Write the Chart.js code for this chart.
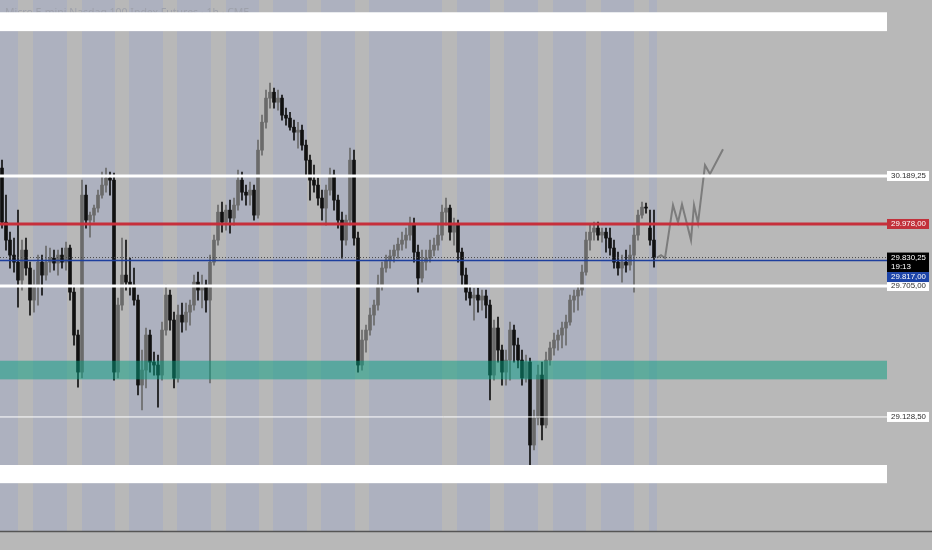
<!DOCTYPE html>
<html>
<head>
<meta charset="utf-8">
<style>
  html, body { margin: 0; padding: 0; background: #b8b8b8; }
  canvas { display: block; }
</style>
<script src="https://cdn.jsdelivr.net/npm/chart.js@4.4.1/dist/chart.umd.min.js"></script>
</head>
<body>
<canvas id="chart" width="932" height="550"></canvas>
<script>
// Hourly-ish candles (one per 2h)
const opens = [
  30224, 29986, 29907, 29841, 29810, 29731, 29863, 29784, 29643, 29709,
  29810, 29753, 29810, 29828, 29806, 29841, 29810, 29872, 29678, 29489,
  29326, 30105, 29995, 30017, 30048, 30105, 30149, 30180, 30171, 29326,
  29621, 29753, 29722, 29709, 29643, 29269, 29335, 29489, 29370, 29357,
  29313, 29511, 29665, 29555, 29300, 29577, 29546, 29590, 29621, 29722,
  29687, 29709, 29643, 29810, 29907, 30030, 29986, 30039, 30004, 30061,
  30171, 30118, 30105, 30127, 30017, 30303, 30426, 30532, 30558, 30514,
  30532, 30457, 30444, 30404, 30382, 30391, 30325, 30259, 30171, 30149,
  30092, 30048, 30127, 30193, 30083, 29995, 29907, 29995, 30259, 29916,
  29357, 29467, 29511, 29577, 29621, 29709, 29784, 29819, 29837, 29863,
  29889, 29907, 29929, 29977, 29854, 29740, 29810, 29828, 29863, 29885,
  29929, 30030, 30048, 29942, 29973, 29854, 29753, 29678, 29652, 29665,
  29643, 29661, 29621, 29313, 29520, 29423, 29326, 29379, 29511, 29445,
  29379, 29300, 29370, 29005, 29124, 29313, 29093, 29379, 29432, 29467,
  29489, 29520, 29546, 29643, 29661, 29687, 29766, 29907, 29942, 29960,
  29929, 29942, 29916, 29872, 29810, 29784, 29810, 29797, 29841, 29929,
  30017, 30052, 29960, 29907
];
const highs = [
  30259, 30105, 29942, 29916, 30039, 29907, 29916, 29810, 29775, 29841,
  29841, 29881, 29872, 29863, 29863, 29872, 29898, 29885, 29709, 29511,
  30171, 30149, 30030, 30061, 30127, 30206, 30224, 30206, 30202, 29652,
  29916, 29907, 29828, 29784, 29665, 29423, 29520, 29511, 29414, 29401,
  29546, 29709, 29687, 29590, 29621, 29630, 29630, 29643, 29753, 29766,
  29753, 29731, 29841, 29929, 30061, 30074, 30061, 30083, 30092, 30215,
  30206, 30149, 30162, 30149, 30347, 30457, 30567, 30598, 30576, 30567,
  30545, 30488, 30470, 30435, 30426, 30413, 30347, 30281, 30237, 30180,
  30127, 30149, 30224, 30215, 30105, 30030, 30017, 30312, 30303, 29942,
  29511, 29533, 29608, 29643, 29753, 29810, 29841, 29863, 29885, 29916,
  29942, 29960, 30008, 30004, 29885, 29863, 29863, 29907, 29916, 29973,
  30061, 30092, 30061, 30004, 29995, 29872, 29784, 29709, 29696, 29696,
  29687, 29687, 29643, 29555, 29568, 29445, 29423, 29546, 29533, 29476,
  29423, 29401, 29388, 29159, 29357, 29370, 29414, 29458, 29498, 29511,
  29546, 29577, 29665, 29687, 29709, 29797, 29942, 29973, 29986, 29986,
  29960, 29960, 29960, 29907, 29854, 29841, 29863, 29885, 29960, 30039,
  30074, 30070, 30039, 30039
];
const lows = [
  29960, 29863, 29784, 29766, 29612, 29687, 29753, 29577, 29590, 29621,
  29665, 29731, 29766, 29775, 29753, 29784, 29775, 29643, 29445, 29260,
  29300, 29960, 29920, 29986, 30030, 30092, 30118, 30105, 29291, 29300,
  29599, 29687, 29665, 29621, 29225, 29159, 29256, 29326, 29313, 29172,
  29291, 29489, 29511, 29256, 29282, 29502, 29511, 29533, 29599, 29643,
  29608, 29590, 29278, 29797, 29885, 29942, 29951, 29938, 29973, 30039,
  30083, 30061, 30061, 29995, 30004, 30281, 30400, 30488, 30488, 30479,
  30435, 30413, 30391, 30347, 30312, 30303, 30193, 30083, 30118, 30061,
  29995, 29973, 30105, 30039, 29960, 29828, 29885, 29973, 29885, 29326,
  29335, 29414, 29489, 29533, 29599, 29687, 29766, 29784, 29810, 29828,
  29863, 29872, 29907, 29810, 29678, 29722, 29775, 29810, 29837, 29863,
  29907, 29973, 29907, 29885, 29810, 29709, 29643, 29621, 29555, 29590,
  29599, 29564, 29203, 29291, 29370, 29269, 29269, 29291, 29370, 29344,
  29269, 29282, 28908, 28983, 29093, 29027, 29080, 29357, 29401, 29423,
  29432, 29445, 29533, 29590, 29599, 29665, 29753, 29863, 29907, 29907,
  29898, 29854, 29841, 29784, 29753, 29722, 29766, 29775, 29678, 29907,
  30004, 30026, 29885, 29788
];
const closes = [
  29986, 29907, 29841, 29810, 29731, 29863, 29784, 29643, 29709, 29810,
  29753, 29810, 29828, 29806, 29841, 29810, 29872, 29678, 29489, 29326,
  30105, 29995, 30017, 30048, 30105, 30149, 30180, 30171, 29326, 29621,
  29753, 29722, 29709, 29643, 29269, 29335, 29489, 29370, 29357, 29313,
  29511, 29665, 29555, 29300, 29577, 29546, 29590, 29621, 29722, 29687,
  29709, 29643, 29810, 29907, 30030, 29986, 30039, 30004, 30061, 30171,
  30118, 30105, 30127, 30017, 30303, 30426, 30532, 30558, 30514, 30532,
  30457, 30444, 30404, 30382, 30391, 30325, 30259, 30171, 30149, 30092,
  30048, 30127, 30193, 30083, 29995, 29907, 29995, 30259, 29916, 29357,
  29467, 29511, 29577, 29621, 29709, 29784, 29819, 29837, 29863, 29889,
  29907, 29929, 29977, 29854, 29740, 29810, 29828, 29863, 29885, 29929,
  30030, 30048, 29942, 29973, 29854, 29753, 29678, 29652, 29665, 29643,
  29661, 29621, 29313, 29520, 29423, 29326, 29379, 29511, 29445, 29379,
  29300, 29370, 29005, 29124, 29313, 29093, 29379, 29432, 29467, 29489,
  29520, 29546, 29643, 29661, 29687, 29766, 29907, 29942, 29960, 29929,
  29942, 29916, 29872, 29810, 29784, 29810, 29797, 29841, 29929, 30017,
  30052, 30048, 29907, 29830.25
];

// hand-drawn projection path (x in candle units)
const projX = [164.25, 165.25, 166.25, 168.25, 169.5, 170.5, 172.75, 173.5, 174.5, 176.25, 177.5, 180.75];
const projY = [29830, 29841, 29828, 30061, 29986, 30065, 29907, 30061, 29982, 30237, 30198, 30307];

// session shading (x in candle units)
const sessionEnd = 164.25;
const offHours = [
  [4.5, 8.25], [16.75, 20.5], [28.75, 32.25], [40.75, 44.25], [52.75, 56.5],
  [64.75, 68.25], [76.75, 80.25], [88.75, 92.25], [110.5, 114.25], [122.5, 126],
  [134.5, 138.25], [146.5, 150.25], [158.5, 162.25]
];

// drawn levels and zones
const whiteLevels = [30189.25, 29705.00];
const redLevel = 29978.00;
const lastPrice = 29830.25;
const blueLevel = 29817.00;
const thinLevel = 29128.50;
const countdown = '19:13';
const whiteZones = [[30827, 30910], [28837, 28917]];
const tealZone = [29294, 29376];

const title = 'Micro E-mini Nasdaq 100 Index Futures · 1h · CME';

function fmt(v) {
  const parts = v.toFixed(2).split('.');
  return parts[0].replace(/\B(?=(\d{3})+(?!\d))/g, '.') + ',' + parts[1];
}

const upColor = '#6a6a6a';
const downColor = '#101010';
const candleColor = c => closes[c.dataIndex] >= opens[c.dataIndex] ? upColor : downColor;

const overlay = {
  id: 'overlay',
  beforeDatasetsDraw(chart) {
    const { ctx, chartArea: a, scales: { x } } = chart;
    ctx.save();
    ctx.fillStyle = '#adb1bf';
    ctx.fillRect(a.left, a.top, x.getPixelForValue(sessionEnd) - a.left, a.bottom - a.top);
    ctx.fillStyle = '#b8b8b8';
    offHours.forEach(([s, e]) => {
      const x0 = x.getPixelForValue(s);
      ctx.fillRect(x0, a.top, x.getPixelForValue(e) - x0, a.bottom - a.top);
    });
    // chart title, mostly hidden under the top zone
    ctx.fillStyle = '#9ea1ab';
    ctx.font = '10.5px "Noto Sans"';
    ctx.textBaseline = 'top';
    ctx.fillText(title, 5, 8);
    ctx.restore();
  },
  afterDatasetsDraw(chart) {
    const { ctx, chartArea: a, scales: { y } } = chart;
    ctx.save();
    const band = (z, color) => {
      const y0 = y.getPixelForValue(z[1]);
      ctx.fillStyle = color;
      ctx.fillRect(a.left, y0, a.right - a.left, y.getPixelForValue(z[0]) - y0);
    };
    whiteZones.forEach(z => band(z, '#ffffff'));
    band(tealZone, 'rgba(6,158,128,0.5)');

    const hline = (v, color, w, dash) => {
      const py = y.getPixelForValue(v);
      ctx.beginPath();
      ctx.setLineDash(dash || []);
      ctx.strokeStyle = color;
      ctx.lineWidth = w;
      ctx.moveTo(a.left, py);
      ctx.lineTo(a.right, py);
      ctx.stroke();
    };
    whiteLevels.forEach(v => hline(v, '#ffffff', 3));
    hline(redLevel, '#c62f3b', 3);
    hline(thinLevel, '#ffffff', 1);
    hline(blueLevel, '#1d3f9e', 1.5);
    hline(lastPrice, '#4a4a4a', 1, [1, 2]);
    ctx.restore();
  },
  afterDraw(chart) {
    const { ctx, chartArea: a, scales: { y } } = chart;
    ctx.save();
    // bottom axis line
    ctx.strokeStyle = '#555';
    ctx.lineWidth = 1.5;
    ctx.beginPath();
    ctx.moveTo(0, a.bottom + 0.5);
    ctx.lineTo(chart.width, a.bottom + 0.5);
    ctx.stroke();

    ctx.font = '8px "Liberation Sans"';
    ctx.textBaseline = 'middle';
    const bx = a.right, bw = 42;
    const box = (top, h, bg, fg, lines) => {
      ctx.fillStyle = bg;
      ctx.fillRect(bx, top, bw, h);
      ctx.fillStyle = fg;
      lines.forEach((t, i) => ctx.fillText(t, bx + 4, top + 5.2 + i * 9.5, 35));
    };
    [whiteLevels[0], whiteLevels[1], thinLevel].forEach(v => {
      box(y.getPixelForValue(v) - 5, 10, '#ffffff', '#2b2b2b', [fmt(v)]);
    });
    box(y.getPixelForValue(redLevel) - 5, 10, '#c2313b', '#ffffff', [fmt(redLevel)]);
    const lp = y.getPixelForValue(lastPrice);
    box(lp - 5, 19.5, '#000000', '#ffffff', [fmt(lastPrice), countdown]);
    box(lp + 14.5, 10, '#1c44a8', '#ffffff', [fmt(blueLevel)]);
    ctx.restore();
  }
};

new Chart(document.getElementById('chart'), {
  type: 'bar',
  data: {
    datasets: [
      {
        label: 'bodies',
        data: closes.map((c, i) => ({ x: i + 0.5, y: [opens[i], c] })),
        backgroundColor: candleColor,
        barThickness: 3,
        minBarLength: 1,
        grouped: false
      },
      {
        label: 'wicks',
        data: closes.map((c, i) => ({ x: i + 0.5, y: [lows[i], highs[i]] })),
        backgroundColor: candleColor,
        barThickness: 1,
        grouped: false
      },
      {
        type: 'line',
        label: 'projection',
        data: projX.map((x, i) => ({ x: x, y: projY[i] })),
        borderColor: '#7c7c7c',
        borderWidth: 2,
        pointRadius: 0,
        tension: 0
      }
    ]
  },
  options: {
    responsive: false,
    animation: false,
    layout: { padding: { left: 0, top: 0, right: 45, bottom: 19 } },
    plugins: { legend: { display: false }, tooltip: { enabled: false } },
    scales: {
      x: { type: 'linear', min: 0, max: 221.75, offset: false, display: false },
      y: { type: 'linear', min: 28626.5, max: 30964, display: false }
    }
  },
  plugins: [overlay]
});
</script>
</body>
</html>
